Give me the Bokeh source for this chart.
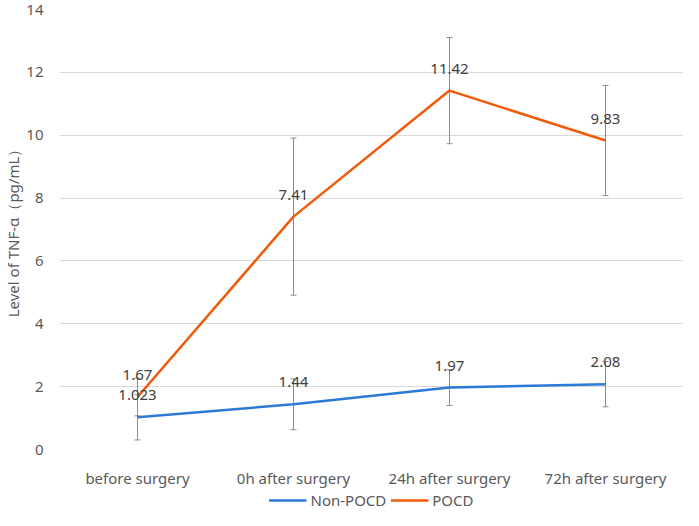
from bokeh.plotting import figure
from bokeh.layouts import column
from bokeh.models import ColumnDataSource, Whisker, Legend, LegendItem, FixedTicker, TeeHead, LabelSet, Range1d, FactorRange
from bokeh.core.properties import value
from bokeh.embed import file_html
from bokeh.resources import INLINE

categories = ["before surgery", "0h after surgery", "24h after surgery", "72h after surgery"]
non_pocd = [1.023, 1.44, 1.97, 2.08]
non_pocd_sd = [0.72, 0.81, 0.57, 0.72]
pocd = [1.67, 7.41, 11.42, 9.83]
pocd_sd = [0.60, 2.50, 1.69, 1.75]
non_pocd_labels = ["1.023", "1.44", "1.97", "2.08"]
pocd_labels = ["1.67", "7.41", "11.42", "9.83"]
y_ticks = [0, 2, 4, 6, 8, 10, 12, 14]
series_names = ["Non-POCD", "POCD"]

FONT = "Noto Sans"
BLUE = "#2b7bd6"
ORANGE = "#f05a0a"

p = figure(x_range=categories, y_range=(0, 14), width=683, height=490,
           output_backend="svg", toolbar_location=None,
           min_border_left=58, min_border_right=0, min_border_top=9, min_border_bottom=40)
p.outline_line_color = None
p.background_fill_color = "white"

src_n = ColumnDataSource(dict(x=categories, y=non_pocd,
                              lo=[v - s for v, s in zip(non_pocd, non_pocd_sd)],
                              hi=[v + s for v, s in zip(non_pocd, non_pocd_sd)],
                              lab=non_pocd_labels))
src_p = ColumnDataSource(dict(x=categories, y=pocd,
                              lo=[v - s for v, s in zip(pocd, pocd_sd)],
                              hi=[v + s for v, s in zip(pocd, pocd_sd)],
                              lab=pocd_labels))

for src in (src_n, src_p):
    w = Whisker(base="x", lower="lo", upper="hi", source=src, line_color="#8c8c8c", line_width=1,
                upper_head=TeeHead(size=6, line_color="#8c8c8c", line_width=1),
                lower_head=TeeHead(size=6, line_color="#8c8c8c", line_width=1))
    p.add_layout(w)

p.line("x", "y", source=src_n, line_color=BLUE, line_width=2.5)
p.line("x", "y", source=src_p, line_color=ORANGE, line_width=2.5)

for src in (src_n, src_p):
    ls = LabelSet(x="x", y="y", text="lab", source=src, y_offset=17, text_align="center",
                  text_baseline="alphabetic", text_font=value(FONT), text_font_size=value("15px"),
                  text_color="#404040")
    p.add_layout(ls)

p.xaxis.axis_line_color = None
p.xaxis.major_tick_line_color = None
p.xaxis.minor_tick_line_color = None
p.xaxis.major_label_text_font = FONT
p.xaxis.major_label_text_font_size = "15px"
p.xaxis.major_label_text_color = "#595959"
p.xaxis.major_label_standoff = 12
p.xgrid.grid_line_color = None

p.yaxis.ticker = FixedTicker(ticks=y_ticks)
p.yaxis.axis_line_color = None
p.yaxis.major_tick_line_color = None
p.yaxis.minor_tick_line_color = None
p.yaxis.major_label_text_font = FONT
p.yaxis.major_label_text_font_size = "15px"
p.yaxis.major_label_text_color = "#595959"
p.yaxis.major_label_standoff = 10
p.yaxis.axis_label = "Level of TNF-α（pg/mL）"
p.yaxis.axis_label_text_font = FONT
p.yaxis.axis_label_text_font_style = "normal"
p.yaxis.axis_label_text_font_size = "15px"
p.yaxis.axis_label_text_color = "#595959"
p.yaxis.axis_label_standoff = 0
p.ygrid.grid_line_color = "#d9d9d9"
p.ygrid.grid_line_width = 1

# legend strip below the chart (its lines share the chart's data, kept outside the strip's view)
lf = figure(width=683, height=20, output_backend="svg", toolbar_location=None,
            x_range=FactorRange(*categories), y_range=Range1d(100, 101),
            min_border_left=0, min_border_right=0, min_border_top=0, min_border_bottom=0)
lf.axis.visible = False
lf.grid.visible = False
lf.outline_line_color = None
ln = lf.line("x", "y", source=src_n, line_color=BLUE, line_width=2.5)
lp = lf.line("x", "y", source=src_p, line_color=ORANGE, line_width=2.5)
legend = Legend(items=[LegendItem(label=series_names[0], renderers=[ln]),
                       LegendItem(label=series_names[1], renderers=[lp])],
                orientation="horizontal", location="center",
                label_text_font=FONT, label_text_font_size="15px", label_text_color="#595959",
                glyph_width=38, glyph_height=18, label_height=18,
                label_standoff=4, spacing=4, padding=1, margin=0,
                border_line_color=None, background_fill_alpha=0)
lf.add_layout(legend, "center")

layout = column(p, lf, spacing=0)
open("out.html", "w").write(file_html(layout, INLINE))
